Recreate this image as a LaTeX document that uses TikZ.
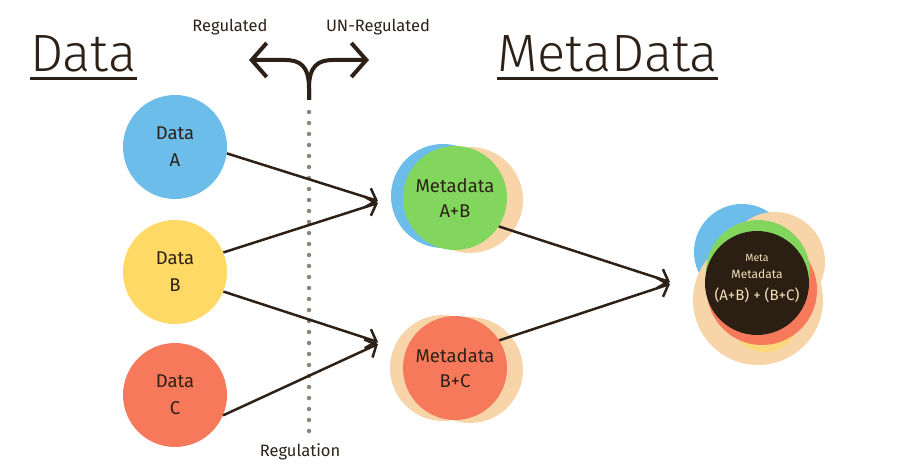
\documentclass[tikz,border=0pt]{standalone}
\usepackage{fontspec}
\setmainfont{Fira Sans}
\newfontfamily\lightf{Fira Sans Light}
\usetikzlibrary{arrows.meta}
\definecolor{ink}{HTML}{2D2117}
\definecolor{cblue}{HTML}{6CBDE9}
\definecolor{cyellow}{HTML}{FFD966}
\definecolor{cred}{HTML}{F5795A}
\definecolor{cgreen}{HTML}{82D65E}
\definecolor{cpeach}{HTML}{F8D5A8}
\definecolor{cdark}{HTML}{2B1F14}
\definecolor{cream}{HTML}{F3DDB8}
\definecolor{dotgray}{HTML}{8E8574}
\begin{document}
\begin{tikzpicture}[x=1pt,y=-1pt,
  title/.style={inner sep=0pt,anchor=base west,text=ink,font=\lightf\fontsize{52.5}{56}\selectfont},
  uline/.style={draw=ink,line width=3pt},
  small/.style={text=ink,font=\fontsize{16.5}{18}\selectfont},
  datac/.style={circle,inner sep=0pt,minimum size=104pt,align=center,text=ink,font=\fontsize{18.5}{27}\selectfont},
  metac/.style={circle,inner sep=0pt,minimum size=104pt,align=center,text=ink,font=\fontsize{18.5}{25}\selectfont},
  mtext/.style={inner sep=0pt,text=cream},
  arr/.style={draw=ink,line width=2.5pt,-{Straight Barb[length=9pt,width=20pt]}},
  fork/.style={draw=ink,line width=4pt,-{Straight Barb[length=15pt,width=34pt]}},
  dotline/.style={draw=dotgray,line width=4.5pt,line cap=round,dash pattern=on 0pt off 11pt}
]
\useasboundingbox (0,0) rectangle (924,473);

% titles
\node[title] (t1) at (30,72) {Data};
\draw[uline] ([yshift=-7pt]t1.base west) -- ([yshift=-7pt]t1.base east);
\node[title] (t2) at (497,72) {MetaData};
\draw[uline] ([yshift=-7pt]t2.base west) -- ([yshift=-7pt]t2.base east);

% fork
\node[small] (reg) at (230,27) {Regulated};
\node[small] (unreg) at (378,27) {UN-Regulated};
\coordinate (stem) at (309,100);
\coordinate (forkl) at (249,60);
\coordinate (forkr) at (369,60);
\draw[fork] (stem) -- (309,88) .. controls (309,66) and (300,60) .. (285,60) -- (forkl);
\draw[fork] (stem) -- (309,88) .. controls (309,66) and (318,60) .. (333,60) -- (forkr);

% dotted regulation line
\coordinate (dtop) at (309,112);
\coordinate (dbot) at (309,438);
\draw[dotline] (dtop) -- (dbot);
\node[small] (regul) at (300,452) {Regulation};

% data circles
\node[datac,fill=cblue] (da) at (175,147) {Data\\A};
\node[datac,fill=cyellow] (db) at (175,272) {Data\\B};
\node[datac,fill=cred] (dc) at (175,395) {Data\\C};

% metadata A+B
\fill[cblue] (443,196) circle (52);
\fill[cpeach] (470,200) circle (53);
\node[metac,fill=cgreen] (mab) at (455,198) {Metadata\\A+B};

% metadata B+C
\fill[cpeach] (443,368) circle (53);
\fill[cpeach] (470,370) circle (53);
\node[metac,fill=cred] (mbc) at (455,368) {Metadata\\B+C};

% meta metadata
\fill[cblue] (742,252) circle (48);
\fill[cpeach] (775,262) circle (50);
\fill[cpeach] (758,300) circle (65);
\fill[cyellow!70!cpeach] (765,318) circle (34);
\fill[cred] (762,290) circle (55);
\fill[cgreen] (758,272) circle (52);
\node[circle,fill=cdark,inner sep=0pt,minimum size=104pt] (mm) at (757,283) {};
\node[mtext,font=\fontsize{10.5}{13}\selectfont] (mm1t) at (757,258) {Meta};
\node[mtext,font=\fontsize{12}{14}\selectfont] (mm2t) at (757,274) {Metadata};
\node[mtext,font=\fontsize{15}{18}\selectfont] (mm3t) at (757,295) {(A+B) + (B+C)};

% connector endpoints
\coordinate (ab1) at (378,201);
\coordinate (ab2) at (378,203);
\coordinate (bc1) at (378,342);
\coordinate (bc2) at (378,344);
\coordinate (mm1) at (670,282);
\coordinate (mm2) at (670,284);

\draw[arr] (da.-7) -- (ab1);
\draw[arr] (db.22) -- (ab2);
\draw[arr] (db.-22) -- (bc1);
\draw[arr] (dc.-23) -- (bc2);
\draw[arr] (mab.-33) -- (mm1);
\draw[arr] (mbc.32) -- (mm2);
\end{tikzpicture}
\end{document}
